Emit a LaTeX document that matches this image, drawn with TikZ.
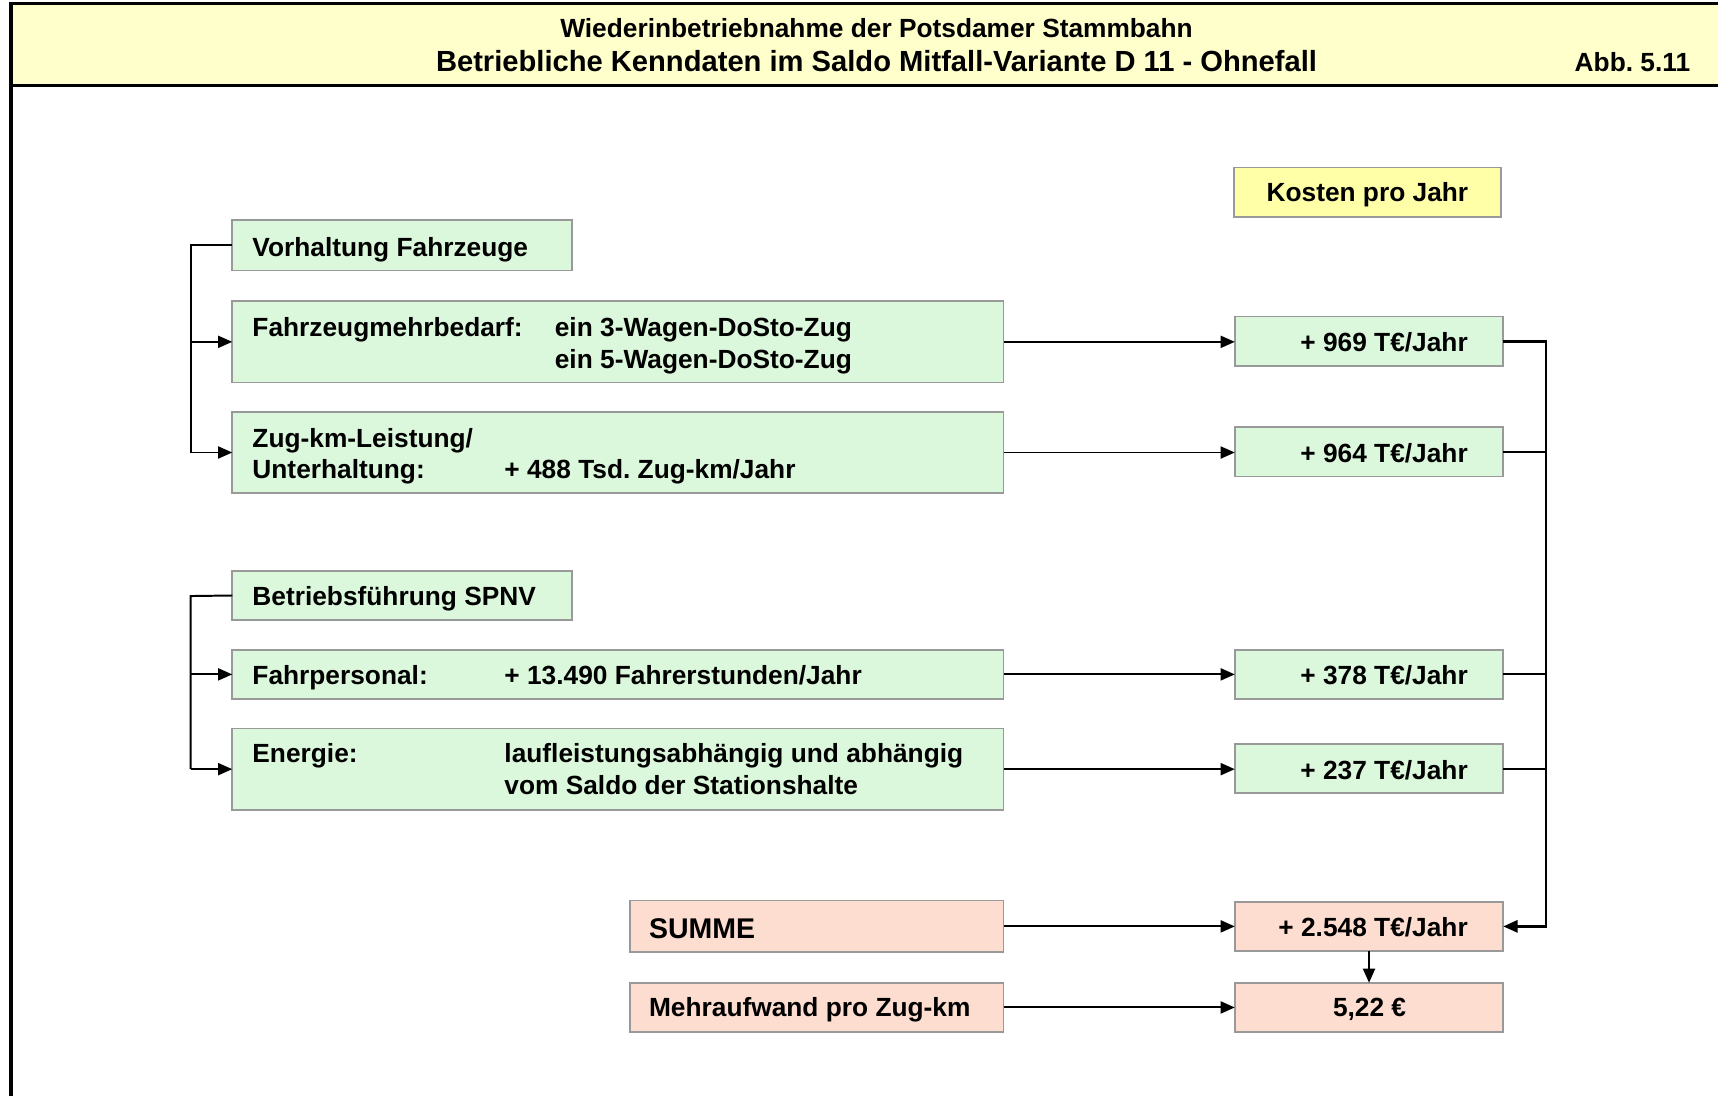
\documentclass[tikz,border=0pt]{standalone}
\usepackage{fontspec}
\setmainfont{Liberation Sans}
\usetikzlibrary{arrows.meta}
\frenchspacing
\definecolor{hdrfill}{HTML}{FFFFCC}
\definecolor{kostfill}{HTML}{FFFFA8}
\definecolor{grnfill}{HTML}{DCF8DC}
\definecolor{pnkfill}{HTML}{FDDDD0}
\definecolor{bordgray}{HTML}{999999}
\newcommand{\mybox}[6]{\node[#6,anchor=north west,minimum width={(#4-#2)*0.5pt},minimum height={(#5-#3)*0.5pt}] (#1) at (#2,#3) {};}
\tikzset{
  boxbase/.style={draw=bordgray,line width=0.75pt,inner sep=0pt,outer sep=0pt},
  grnbox/.style={boxbase,fill=grnfill},
  pnkbox/.style={boxbase,fill=pnkfill},
  kostbox/.style={boxbase,fill=kostfill},
  txt/.style={inner sep=0pt,font=\fontsize{12}{14}\selectfont\bfseries},
  bigtxt/.style={inner sep=0pt,font=\fontsize{13}{15}\selectfont\bfseries},
  conn/.style={line width=0.9pt,black},
  busline/.style={line width=1.1pt,black},
  arr/.style={conn,-{Triangle[length=6.5pt,width=5.5pt]}},
  frame/.style={line width=1.5pt,black}
}
\begin{document}
\begin{tikzpicture}[x=0.5pt,y=-0.5pt]
\useasboundingbox (0,0) rectangle (1568,1000);
% header
\fill[hdrfill] (10,3) rectangle (1568,78);
\draw[frame] (1568,3) -- (10,3) -- (10,1000);
\draw[frame] (10,78) -- (1568,78);
\node[txt,anchor=base] (h1) at (800,34) {Wiederinbetriebnahme der Potsdamer Stammbahn};
\node[inner sep=0pt,font=\fontsize{13.3}{15}\selectfont\bfseries,anchor=base] (h2) at (800,65) {Betriebliche Kenndaten im Saldo Mitfall-Variante D 11 - Ohnefall};
\node[txt,anchor=base east] (abb) at (1543,65) {Abb. 5.11};
% boxes
\mybox{kost}{1126}{153}{1370}{198}{kostbox}
\mybox{vor}{212}{201}{522}{247}{grnbox}
\mybox{fzm}{212}{275}{916}{349}{grnbox}
\mybox{zug}{212}{376}{916}{450}{grnbox}
\mybox{va}{1127}{289}{1372}{334}{grnbox}
\mybox{vb}{1127}{390}{1372}{435}{grnbox}
\mybox{bf}{212}{521}{522}{566}{grnbox}
\mybox{fp}{212}{593}{916}{638}{grnbox}
\mybox{en}{212}{665}{916}{739}{grnbox}
\mybox{vc}{1127}{593}{1372}{638}{grnbox}
\mybox{vd}{1127}{679}{1372}{724}{grnbox}
\mybox{sum}{575}{822}{916}{869}{pnkbox}
\mybox{vs}{1127}{823}{1372}{868}{pnkbox}
\mybox{mehr}{575}{897}{916}{942}{pnkbox}
\mybox{vm}{1127}{897}{1372}{942}{pnkbox}
% texts
\node[txt,anchor=base] (tkost) at (1248,184) {Kosten pro Jahr};
\node[txt,anchor=base west] (tvor) at (230,234) {Vorhaltung Fahrzeuge};
\node[txt,anchor=base west] (tfzm) at (230,307) {Fahrzeugmehrbedarf:};
\node[txt,anchor=base west] (tfzma) at (506,307) {ein 3-Wagen-DoSto-Zug};
\node[txt,anchor=base west] (tfzmb) at (506,336) {ein 5-Wagen-DoSto-Zug};
\node[txt,anchor=base west] (tzug) at (230,408) {Zug-km-Leistung/};
\node[txt,anchor=base west] (tzugb) at (230,437) {Unterhaltung:};
\node[txt,anchor=base west] (tzugc) at (460,437) {+ 488 Tsd. Zug-km/Jahr};
\node[txt,anchor=base east] (tva) at (1340,321) {+ 969 T€/Jahr};
\node[txt,anchor=base east] (tvb) at (1340,422) {+ 964 T€/Jahr};
\node[txt,anchor=base west] (tbf) at (230,553) {Betriebsführung SPNV};
\node[txt,anchor=base west] (tfp) at (230,625) {Fahrpersonal:};
\node[txt,anchor=base west] (tfpb) at (460,625) {+ 13.490 Fahrerstunden/Jahr};
\node[txt,anchor=base east] (tvc) at (1340,625) {+ 378 T€/Jahr};
\node[txt,anchor=base west] (ten) at (230,696) {Energie:};
\node[txt,anchor=base west] (tena) at (460,696) {laufleistungsabhängig und abhängig};
\node[txt,anchor=base west] (tenb) at (460,725) {vom Saldo der Stationshalte};
\node[txt,anchor=base east] (tvd) at (1340,711) {+ 237 T€/Jahr};
\node[bigtxt,anchor=base west] (tsum) at (592,857) {SUMME};
\node[txt,anchor=base east] (tvs) at (1340,855) {+ 2.548 T€/Jahr};
\node[txt,anchor=base west] (tmehr) at (592,928) {Mehraufwand pro Zug-km};
\node[txt,anchor=base] (tvm) at (1250,928) {5,22 €};
% left brackets
\coordinate (b1) at (174,224);
\coordinate (b2) at (174,544);
\draw[conn] (vor.west) -- (b1) -- (b1 |- zug.west);
\draw[arr] (b1 |- fzm.west) -- (fzm.west);
\draw[arr] (b1 |- zug.west) -- (zug.west);
\draw[conn] (bf.west) -- (b2) -- (b2 |- en.west);
\draw[arr] (b2 |- fp.west) -- (fp.west);
\draw[arr] (b2 |- en.west) -- (en.west);
% horizontal arrows
\draw[arr] (fzm.east) -- (fzm.east -| va.west);
\draw[arr] (zug.east) -- (zug.east -| vb.west);
\draw[arr] (fp.east) -- (vc.west);
\draw[arr] (en.east) -- (en.east -| vd.west);
\draw[arr] (sum.east) -- (vs.west);
\draw[arr] (mehr.east) -- (vm.west);
% right bus
\coordinate (bus) at (1411,312);
\draw[busline,-{Triangle[length=6.5pt,width=5.5pt]}] (va.east) -- (va.east -| bus) |- (vs.east);
\draw[conn] (vb.east) -- (vb.east -| bus);
\draw[conn] (vc.east) -- (vc.east -| bus);
\draw[conn] (vd.east) -- (vd.east -| bus);
\draw[arr] (vs.south) -- (vm.north);
\end{tikzpicture}
\end{document}
